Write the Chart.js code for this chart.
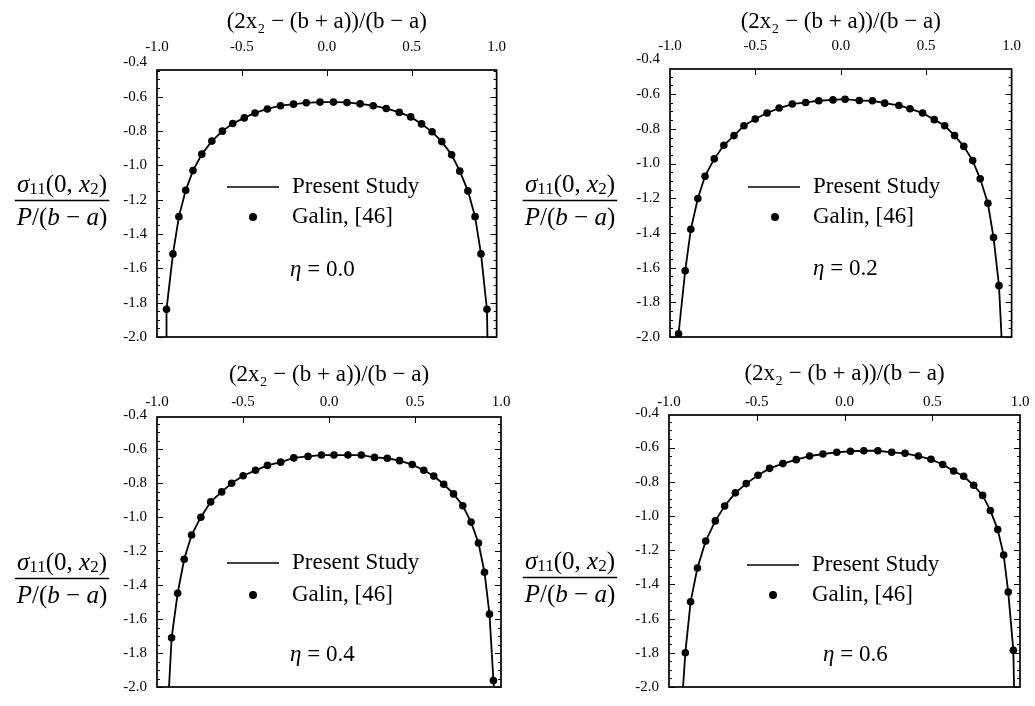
<!DOCTYPE html>
<html>
<head>
<meta charset="utf-8">
<title>Stress distribution under the punch</title>
<script src="https://cdn.jsdelivr.net/npm/chart.js@4.4.1/dist/chart.umd.min.js"></script>
<style>
  body { margin: 0; background: #fff; }
  #wrap { position: relative; width: 1035px; height: 706px; overflow: hidden; }
  canvas { position: absolute; }
</style>
</head>
<body>
<div id="wrap">
  <canvas id="c0" width="520" height="356" style="left:0;top:0"></canvas>
  <canvas id="c1" width="520" height="356" style="left:515px;top:0"></canvas>
  <canvas id="c2" width="520" height="356" style="left:0;top:350px"></canvas>
  <canvas id="c3" width="520" height="356" style="left:515px;top:350px"></canvas>
</div>
<script>
const SERIF = "'Liberation Serif', 'Times New Roman', serif";

const etaLabels = ["0.0", "0.2", "0.4", "0.6"];
const xTickValues = [-1.0, -0.5, 0.0, 0.5, 1.0];
const yTickValues = [-2.0, -1.8, -1.6, -1.4, -1.2, -1.0, -0.8, -0.6, -0.4];

// eta = 0.0
const galinX0 = [-0.944,-0.906,-0.871,-0.831,-0.788,-0.736,-0.677,-0.615,-0.554,-0.486,-0.423,-0.350,-0.273,-0.196,-0.121,-0.040,
                 0.039,0.119,0.196,0.273,0.350,0.427,0.494,0.558,0.620,0.677,0.735,0.783,0.831,0.873,0.908,0.943];
const galinY0 = [-1.839,-1.516,-1.299,-1.146,-1.031,-0.935,-0.859,-0.801,-0.757,-0.724,-0.695,-0.672,-0.653,-0.644,-0.636,-0.632,
                 -0.632,-0.634,-0.642,-0.653,-0.669,-0.692,-0.718,-0.759,-0.805,-0.862,-0.939,-1.034,-1.149,-1.299,-1.516,-1.839];
const studyX0 = [-0.947,-0.944,-0.906,-0.871,-0.831,-0.788,-0.736,-0.677,-0.615,-0.554,-0.486,-0.423,-0.350,-0.273,-0.196,-0.121,-0.040,
                 0.039,0.119,0.196,0.273,0.350,0.427,0.494,0.558,0.620,0.677,0.735,0.783,0.831,0.873,0.908,0.943,0.946];
const studyY0 = [-2.0,-1.839,-1.516,-1.299,-1.146,-1.031,-0.935,-0.859,-0.801,-0.757,-0.724,-0.695,-0.672,-0.653,-0.644,-0.636,-0.632,
                 -0.632,-0.634,-0.642,-0.653,-0.669,-0.692,-0.718,-0.759,-0.805,-0.862,-0.939,-1.034,-1.149,-1.299,-1.516,-1.839,-2.0];

// eta = 0.2
const galinX1 = [-0.950,-0.911,-0.878,-0.837,-0.795,-0.741,-0.685,-0.625,-0.567,-0.501,-0.432,-0.361,-0.284,-0.206,-0.129,-0.046,
                 0.025,0.108,0.185,0.257,0.340,0.405,0.479,0.547,0.608,0.666,0.720,0.772,0.816,0.861,0.894,0.926];
const galinY1 = [-1.981,-1.618,-1.379,-1.202,-1.073,-0.973,-0.895,-0.839,-0.782,-0.743,-0.709,-0.680,-0.657,-0.648,-0.638,-0.633,
                 -0.629,-0.637,-0.638,-0.652,-0.665,-0.684,-0.709,-0.747,-0.782,-0.839,-0.901,-0.983,-1.088,-1.229,-1.426,-1.704];
const studyX1 = [-0.953,-0.950,-0.911,-0.878,-0.837,-0.795,-0.741,-0.685,-0.625,-0.567,-0.501,-0.432,-0.361,-0.284,-0.206,-0.129,-0.046,
                 0.025,0.108,0.185,0.257,0.340,0.405,0.479,0.547,0.608,0.666,0.720,0.772,0.816,0.861,0.894,0.926,0.941];
const studyY1 = [-2.0,-1.981,-1.618,-1.379,-1.202,-1.073,-0.973,-0.895,-0.839,-0.782,-0.743,-0.709,-0.680,-0.657,-0.648,-0.638,-0.633,
                 -0.629,-0.637,-0.638,-0.652,-0.665,-0.684,-0.709,-0.747,-0.782,-0.839,-0.901,-0.983,-1.088,-1.229,-1.426,-1.704,-2.0];

// eta = 0.4
const galinX2 = [-0.915,-0.880,-0.842,-0.799,-0.745,-0.688,-0.624,-0.566,-0.499,-0.427,-0.358,-0.281,-0.205,-0.122,-0.044,
                 0.029,0.110,0.188,0.265,0.339,0.410,0.484,0.551,0.609,0.667,0.724,0.778,0.826,0.869,0.904,0.933,0.956];
const galinY2 = [-1.710,-1.448,-1.248,-1.105,-1.000,-0.910,-0.851,-0.800,-0.756,-0.724,-0.695,-0.676,-0.651,-0.642,-0.634,
                 -0.634,-0.634,-0.634,-0.648,-0.653,-0.667,-0.690,-0.724,-0.758,-0.806,-0.863,-0.933,-1.029,-1.152,-1.324,-1.571,-1.962];
const studyX2 = [-0.930,-0.915,-0.880,-0.842,-0.799,-0.745,-0.688,-0.624,-0.566,-0.499,-0.427,-0.358,-0.281,-0.205,-0.122,-0.044,
                 0.029,0.110,0.188,0.265,0.339,0.410,0.484,0.551,0.609,0.667,0.724,0.778,0.826,0.869,0.904,0.933,0.956,0.958];
const studyY2 = [-2.0,-1.710,-1.448,-1.248,-1.105,-1.000,-0.910,-0.851,-0.800,-0.756,-0.724,-0.695,-0.676,-0.651,-0.642,-0.634,
                 -0.634,-0.634,-0.634,-0.648,-0.653,-0.667,-0.690,-0.724,-0.758,-0.806,-0.863,-0.933,-1.029,-1.152,-1.324,-1.571,-1.962,-2.0];

// eta = 0.6
const galinX3 = [-0.907,-0.877,-0.838,-0.791,-0.736,-0.683,-0.622,-0.560,-0.493,-0.427,-0.351,-0.275,-0.199,-0.123,-0.044,
                 0.034,0.110,0.190,0.269,0.345,0.421,0.493,0.560,0.622,0.679,0.736,0.787,0.831,0.873,0.907,0.933,0.962];
const galinY3 = [-1.800,-1.502,-1.304,-1.147,-1.029,-0.942,-0.865,-0.811,-0.762,-0.722,-0.694,-0.671,-0.650,-0.638,-0.628,
                 -0.622,-0.619,-0.619,-0.628,-0.634,-0.650,-0.669,-0.699,-0.737,-0.768,-0.821,-0.880,-0.968,-1.080,-1.229,-1.445,-1.785];
const studyX3 = [-0.920,-0.907,-0.877,-0.838,-0.791,-0.736,-0.683,-0.622,-0.560,-0.493,-0.427,-0.351,-0.275,-0.199,-0.123,-0.044,
                 0.034,0.110,0.190,0.269,0.345,0.421,0.493,0.560,0.622,0.679,0.736,0.787,0.831,0.873,0.907,0.933,0.962,0.966];
const studyY3 = [-2.0,-1.800,-1.502,-1.304,-1.147,-1.029,-0.942,-0.865,-0.811,-0.762,-0.722,-0.694,-0.671,-0.650,-0.638,-0.628,
                 -0.622,-0.619,-0.619,-0.628,-0.634,-0.650,-0.669,-0.699,-0.737,-0.768,-0.821,-0.880,-0.968,-1.080,-1.229,-1.445,-1.785,-2.0];

const galinX = [galinX0, galinX1, galinX2, galinX3];
const galinY = [galinY0, galinY1, galinY2, galinY3];
const studyX = [studyX0, studyX1, studyX2, studyX3];
const studyY = [studyY0, studyY1, studyY2, studyY3];

// plot box (canvas-local px) and annotation placement for each panel
const panels = [
  {L:157, R:503, T:70, B:342, yTop:-0.445, titleTop:8,  gapX:14, lineX:227, markX:253, textX:292, row1:187, row2:217, etaX:290, etaY:270, fracX:62, fracBar:200},
  {L:155, R:499, T:69, B:340, yTop:-0.455, titleTop:8,  gapX:14, lineX:233, markX:260, textX:298, row1:187, row2:217, etaX:298, etaY:269, fracX:55, fracBar:200},
  {L:157, R:501, T:67, B:345, yTop:-0.41,  titleTop:11, gapX:6,  lineX:227, markX:253, textX:292, row1:213, row2:245, etaX:290, etaY:305, fracX:62, fracBar:228},
  {L:154, R:505, T:65, B:348, yTop:-0.41,  titleTop:10, gapX:4,  lineX:232, markX:258, textX:297, row1:215, row2:245, etaX:308, etaY:305, fracX:55, fracBar:227}
];

function toPoints(xs, ys) {
  return xs.map((x, i) => ({x: x, y: ys[i]}));
}

// draw a row of differently styled text pieces; align 'center' or 'left'
function drawRuns(ctx, runs, x, y, align) {
  let w = 0;
  runs.forEach(r => { ctx.font = r.font; r.w = ctx.measureText(r.t).width; w += r.w; });
  let px = align === "left" ? x : x - w / 2;
  runs.forEach(r => { ctx.font = r.font; ctx.fillText(r.t, px, y + (r.dy || 0)); px += r.w; });
  return w;
}

function line(ctx, x1, y1, x2, y2) {
  ctx.beginPath(); ctx.moveTo(x1, y1); ctx.lineTo(x2, y2); ctx.stroke();
}

const framePlugin = {
  id: "frame",
  afterDraw(chart, args, opts) {
    const p = opts.panel;
    const {ctx, chartArea: a, scales: {x, y}} = chart;
    ctx.save();
    ctx.strokeStyle = "#000";
    ctx.fillStyle = "#000";

    // box
    ctx.lineWidth = 1.7;
    ctx.strokeRect(a.left, a.top, a.right - a.left, a.bottom - a.top);

    // inward ticks: left/right every 0.05, longer every 0.2
    ctx.lineWidth = 1;
    for (let k = 0; ; k++) {
      const v = -2.0 + k * 0.05;
      if (v > y.max + 1e-9) break;
      const py = Math.round(y.getPixelForValue(v)) + 0.5;
      const len = k % 4 === 0 ? 6 : 3;
      line(ctx, a.left, py, a.left + len, py);
      line(ctx, a.right, py, a.right - len, py);
    }
    // top axis ticks
    xTickValues.forEach(v => {
      if (v <= x.min || v >= x.max) return;
      const px = Math.round(x.getPixelForValue(v)) + 0.5;
      line(ctx, px, a.top, px, a.top + 6);
    });

    // legend
    const ds = chart.data.datasets;
    ctx.textBaseline = "middle";
    ctx.lineWidth = 1.7;
    line(ctx, p.lineX, p.row1, p.lineX + 52, p.row1);
    ctx.beginPath(); ctx.arc(p.markX, p.row2, 4, 0, Math.PI * 2); ctx.fill();
    ctx.font = "23px " + SERIF;
    ctx.fillText(ds[0].label, p.textX, p.row1);
    ctx.fillText(ds[1].label, p.textX, p.row2);

    // eta
    drawRuns(ctx, [
      {t: "\u03B7", font: "italic 23px " + SERIF},
      {t: " = " + opts.eta, font: "23px " + SERIF}
    ], p.etaX, p.etaY, "left");

    // vertical axis title as a fraction
    const it = "italic 25px " + SERIF, rm = "25px " + SERIF, sub = "17px " + SERIF;
    const wTop = drawRuns(ctx, [
      {t: "\u03C3", font: it},
      {t: "11", font: sub, dy: 5},
      {t: "(0, ", font: rm},
      {t: "x", font: it},
      {t: "2", font: sub, dy: 5},
      {t: ")", font: rm}
    ], p.fracX, p.fracBar - 15, "center");
    const wBot = drawRuns(ctx, [
      {t: "P", font: it},
      {t: "/(", font: rm},
      {t: "b", font: it},
      {t: " \u2212 ", font: rm},
      {t: "a", font: it},
      {t: ")", font: rm}
    ], p.fracX, p.fracBar + 18, "center");
    const wBar = Math.max(wTop, wBot) + 4;
    ctx.lineWidth = 1.4;
    line(ctx, p.fracX - wBar / 2, p.fracBar + 0.5, p.fracX + wBar / 2, p.fracBar + 0.5);

    ctx.restore();
  }
};

panels.forEach((p, i) => {
  const canvas = document.getElementById("c" + i);
  new Chart(canvas, {
    type: "scatter",
    data: {
      datasets: [
        {
          label: "Present Study",
          data: toPoints(studyX[i], studyY[i]),
          showLine: true,
          borderColor: "#000",
          borderWidth: 1.8,
          pointRadius: 0,
          tension: 0
        },
        {
          label: "Galin, [46]",
          data: toPoints(galinX[i], galinY[i]),
          showLine: false,
          pointStyle: "circle",
          pointRadius: 3.8,
          backgroundColor: "#000",
          borderWidth: 0,
          clip: false
        }
      ]
    },
    options: {
      responsive: false,
      animation: false,
      devicePixelRatio: 1,
      layout: {padding: {left: 0, top: 0, right: canvas.width - p.R, bottom: canvas.height - p.B}},
      plugins: {
        legend: {display: false},
        tooltip: {enabled: false},
        frame: {panel: p, eta: etaLabels[i]}
      },
      scales: {
        x: {
          type: "linear",
          position: "top",
          min: -1,
          max: 1,
          afterBuildTicks: s => { s.ticks = xTickValues.map(v => ({value: v})); },
          afterFit: s => { s.height = p.T; },
          grid: {display: false, drawTicks: false},
          border: {display: false},
          ticks: {
            autoSkip: false, maxRotation: 0, padding: p.gapX, color: "#000",
            font: {family: SERIF, size: 15},
            callback: v => v.toFixed(1)
          },
          title: {
            display: true,
            text: "(2x\u2082 \u2212 (b + a))/(b \u2212 a)",
            color: "#000",
            font: {family: SERIF, size: 23},
            padding: {top: p.titleTop, bottom: 0}
          }
        },
        y: {
          type: "linear",
          position: "left",
          min: -2.0,
          max: p.yTop,
          afterBuildTicks: s => { s.ticks = yTickValues.map(v => ({value: v})); },
          afterFit: s => { s.width = p.L; },
          grid: {display: false, drawTicks: false},
          border: {display: false},
          ticks: {
            autoSkip: false, padding: 10, color: "#000",
            font: {family: SERIF, size: 15},
            callback: v => v.toFixed(1)
          }
        }
      }
    },
    plugins: [framePlugin]
  });
});
</script>
</body>
</html>
